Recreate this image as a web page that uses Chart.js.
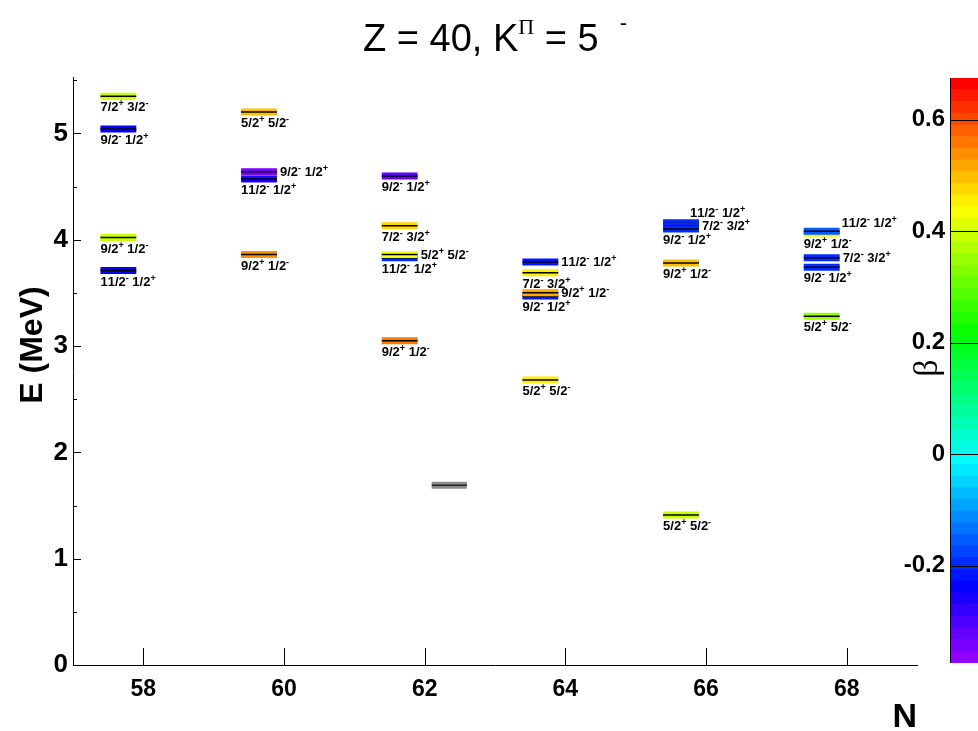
<!DOCTYPE html>
<html>
<head>
<meta charset="utf-8">
<script src="https://cdn.jsdelivr.net/npm/chart.js@4.4.1/dist/chart.umd.min.js"></script>
<style>
  html, body { margin: 0; padding: 0; background: #fff; }
  #wrap { position: relative; width: 978px; height: 731px; }
  #main { position: absolute; left: 0; top: 0; }
  #bar { position: absolute; left: 880px; top: 0; }
</style>
</head>
<body>
<div id="wrap">
  <canvas id="main" width="978" height="731"></canvas>
  <canvas id="bar" width="98" height="731"></canvas>
</div>
<script>
// levels: neutron number, energy (MeV), deformation beta, configuration
const levelN    = [58, 58, 58, 58, 60, 60, 60, 60, 62, 62, 62, 62, 62, 64, 64, 64, 64, 64, 66, 66, 66, 66, 66, 68, 68, 68, 68, 68];
const levelE    = [5.35, 5.04, 4.02, 3.71, 5.20, 4.64, 4.57, 3.86, 4.60, 4.13, 3.83, 3.86, 3.05, 3.79, 3.69, 3.47, 3.50, 2.68, 4.16, 4.13, 4.10, 3.78, 1.41, 4.06, 4.08, 3.83, 3.74, 3.28];
const levelBeta = [0.39, -0.24, 0.40, -0.24, 0.50, -0.34, -0.26, 0.54, -0.32, 0.48, -0.20, 0.43, 0.55, -0.22, 0.46, -0.22, 0.52, 0.45, -0.19, -0.19, -0.20, 0.50, 0.39, 0.45, -0.16, -0.20, -0.20, 0.35];
const levelText = ['7/2+ 3/2-', '9/2- 1/2+', '9/2+ 1/2-', '11/2- 1/2+',
                   '5/2+ 5/2-', '9/2- 1/2+', '11/2- 1/2+', '9/2+ 1/2-',
                   '9/2- 1/2+', '7/2- 3/2+', '11/2- 1/2+', '5/2+ 5/2-', '9/2+ 1/2-',
                   '11/2- 1/2+', '7/2- 3/2+', '9/2- 1/2+', '9/2+ 1/2-', '5/2+ 5/2-',
                   '11/2- 1/2+', '7/2- 3/2+', '9/2- 1/2+', '9/2+ 1/2-', '5/2+ 5/2-',
                   '9/2+ 1/2-', '11/2- 1/2+', '7/2- 3/2+', '9/2- 1/2+', '5/2+ 5/2-'];
const labelSide = ['below', 'below', 'below', 'below',
                   'below', 'right', 'below', 'below',
                   'below', 'below', 'below', 'right', 'below',
                   'right', 'below', 'below', 'right', 'below',
                   'above', 'right', 'below', 'below', 'below',
                   'below', 'rightUp', 'right', 'below', 'below'];
// experimental reference level (grey)
const refN = [62];
const refE = [1.69];

const nTicks = [58, 60, 62, 64, 66, 68];
const eTicks = [0, 0.5, 1, 1.5, 2, 2.5, 3, 3.5, 4, 4.5, 5, 5.5];
const betaTicks = [-0.2, 0, 0.2, 0.4, 0.6];
const betaMin = -0.375, betaMax = 0.675;

const SANS = '"Liberation Sans", Arial, sans-serif';
const SERIF = '"Liberation Serif", "Times New Roman", serif';

// ROOT "pretty" palette, 50 steps violet -> red
function paletteColor(i) {
  const hue = 280 - (i + 1) * (280 / 50);
  return 'hsl(' + hue.toFixed(1) + ',100%,50%)';
}
function betaColor(b) {
  let i = Math.floor((b - betaMin) / (betaMax - betaMin) * 50);
  i = Math.max(0, Math.min(49, i));
  return paletteColor(i);
}

const datasets = [];
const nLev = levelN.length;
for (let i = 0; i < nLev; i++) {
  const pts = [{x: levelN[i] - 0.61, y: levelE[i]}, {x: levelN[i] - 0.1, y: levelE[i]}];
  datasets.push({data: pts, borderColor: betaColor(levelBeta[i]), borderWidth: 7, order: 2 * (nLev - i) + 2});
  datasets.push({data: pts, borderColor: '#000', borderWidth: 1.5, order: 2 * (nLev - i) + 1});
}
for (let i = 0; i < refN.length; i++) {
  const pts = [{x: refN[i] + 0.1, y: refE[i]}, {x: refN[i] + 0.6, y: refE[i]}];
  datasets.push({data: pts, borderColor: '#8c8c8c', borderWidth: 7, order: 1});
  datasets.push({data: pts, borderColor: '#222', borderWidth: 1.5, order: 0});
}
datasets.forEach(d => { d.pointRadius = 0; d.fill = false; d.tension = 0; });

function drawLevelLabel(ctx, text, x, y) {
  let cx = x;
  for (let k = 0; k < text.length; k++) {
    const ch = text[k];
    const sup = (ch === '+' || ch === '-') && text[k - 1] === '2';
    if (sup) {
      ctx.font = 'bold 9px ' + SANS;
      ctx.fillText(ch, cx, y - 5);
    } else {
      ctx.font = 'bold 13px ' + SANS;
      ctx.fillText(ch, cx, y);
    }
    cx += ctx.measureText(ch).width;
  }
}

const decorations = {
  id: 'decorations',
  afterDraw(chart) {
    const {ctx, chartArea, scales} = chart;
    const xs = scales.x, ys = scales.y;
    ctx.save();
    // inner tick marks
    ctx.strokeStyle = '#000';
    ctx.lineWidth = 1;
    ctx.beginPath();
    ys.ticks.forEach(t => {
      const py = Math.round(ys.getPixelForValue(t.value)) + 0.5;
      const len = Number.isInteger(t.value) ? 8 : 4;
      ctx.moveTo(chartArea.left, py);
      ctx.lineTo(chartArea.left + len, py);
    });
    xs.ticks.forEach(t => {
      const px = Math.round(xs.getPixelForValue(t.value)) + 0.5;
      ctx.moveTo(px, chartArea.bottom);
      ctx.lineTo(px, chartArea.bottom - 17);
    });
    ctx.stroke();

    // level labels
    ctx.fillStyle = '#000';
    ctx.textBaseline = 'alphabetic';
    ctx.textAlign = 'left';
    for (let i = 0; i < nLev; i++) {
      const left = xs.getPixelForValue(levelN[i] - 0.61);
      const right = xs.getPixelForValue(levelN[i] - 0.1);
      const py = ys.getPixelForValue(levelE[i]);
      let lx = left, ly = py + 15;
      if (labelSide[i] === 'right') { lx = right + 3; ly = py + 4; }
      else if (labelSide[i] === 'above') { lx = right - 9; ly = py - 6; }
      else if (labelSide[i] === 'rightUp') { lx = right + 2; ly = py - 4; }
      drawLevelLabel(ctx, levelText[i], lx, ly);
    }

    // title
    const parts = [
      {t: 'Z = 40, K', f: '38px ' + SANS, dy: 0},
      {t: '\u03A0', f: '22px ' + SERIF, dy: -17},
      {t: ' = 5  ', f: '38px ' + SANS, dy: 0},
      {t: '-', f: '22px ' + SANS, dy: -21}
    ];
    let total = 0;
    parts.forEach(p => { ctx.font = p.f; p.w = ctx.measureText(p.t).width; total += p.w; });
    let tx = 495 - total / 2;
    parts.forEach(p => { ctx.font = p.f; ctx.fillText(p.t, tx, 51 + p.dy); tx += p.w; });

    // axis titles
    ctx.font = 'bold 34px ' + SANS;
    ctx.textAlign = 'right';
    ctx.fillText('N', 917, 727);
    ctx.font = 'bold 32px ' + SANS;
    ctx.translate(42, 345);
    ctx.rotate(-Math.PI / 2);
    ctx.textAlign = 'center';
    ctx.fillText('E (MeV)', 0, 0);
    ctx.restore();
  }
};

new Chart(document.getElementById('main'), {
  type: 'line',
  data: {datasets: datasets},
  options: {
    responsive: false,
    animation: false,
    layout: {padding: {top: 77, right: 61, left: 0, bottom: 0}},
    plugins: {legend: {display: false}, tooltip: {enabled: false}, title: {display: false}},
    scales: {
      x: {
        type: 'linear', min: 57, max: 69,
        afterBuildTicks: s => { s.ticks = nTicks.map(v => ({value: v})); },
        afterFit: s => { s.height = 66; },
        grid: {display: false, drawTicks: false},
        border: {display: true, color: '#000', width: 1},
        ticks: {color: '#000', padding: 11, font: {family: SANS, size: 23, weight: 'bold'}, maxRotation: 0}
      },
      y: {
        type: 'linear', min: 0, max: 5.53,
        afterBuildTicks: s => { s.ticks = eTicks.map(v => ({value: v})); },
        afterFit: s => { s.width = 73; },
        grid: {display: false, drawTicks: false},
        border: {display: true, color: '#000', width: 1},
        ticks: {
          color: '#000', padding: 5, font: {family: SANS, size: 26, weight: 'bold'},
          callback: v => Number.isInteger(v) ? String(v) : ''
        }
      }
    }
  },
  plugins: [decorations]
});

// colour bar
const barSets = [];
for (let i = 0; i < 50; i++) {
  const lo = betaMin + i * (betaMax - betaMin) / 50;
  const hi = betaMin + (i + 1) * (betaMax - betaMin) / 50;
  barSets.push({data: [[lo, hi]], backgroundColor: paletteColor(i), borderWidth: 0,
    barPercentage: 1, categoryPercentage: 1, grouped: false});
}

const barDecor = {
  id: 'barDecor',
  afterDraw(chart) {
    const {ctx, chartArea, scales} = chart;
    ctx.save();
    ctx.strokeStyle = '#000';
    ctx.lineWidth = 1;
    ctx.beginPath();
    scales.y.ticks.forEach(t => {
      const py = Math.round(scales.y.getPixelForValue(t.value)) + 0.5;
      ctx.moveTo(chartArea.left, py);
      ctx.lineTo(chartArea.right, py);
    });
    ctx.moveTo(chartArea.left + 0.5, chartArea.top);
    ctx.lineTo(chartArea.left + 0.5, chartArea.bottom);
    ctx.stroke();

    ctx.fillStyle = '#000';
    ctx.font = '34px ' + SERIF;
    ctx.translate(48, 368);
    ctx.rotate(-Math.PI / 2);
    ctx.textAlign = 'center';
    ctx.textBaseline = 'middle';
    ctx.fillText('\u03B2', 0, 0);
    ctx.restore();
  }
};

new Chart(document.getElementById('bar'), {
  type: 'bar',
  data: {labels: [''], datasets: barSets},
  options: {
    responsive: false,
    animation: false,
    layout: {padding: {top: 78, bottom: 68, left: 0, right: 0}},
    plugins: {legend: {display: false}, tooltip: {enabled: false}},
    scales: {
      x: {display: false},
      y: {
        min: betaMin, max: betaMax,
        afterBuildTicks: s => { s.ticks = betaTicks.map(v => ({value: v})); },
        afterFit: s => { s.width = 70; },
        grid: {display: false, drawTicks: false},
        border: {display: false},
        ticks: {
          color: '#000', padding: 5, font: {family: SANS, size: 24, weight: 'bold'},
          callback: v => String(Math.round(v * 10) / 10)
        }
      }
    }
  },
  plugins: [barDecor]
});
</script>
</body>
</html>
